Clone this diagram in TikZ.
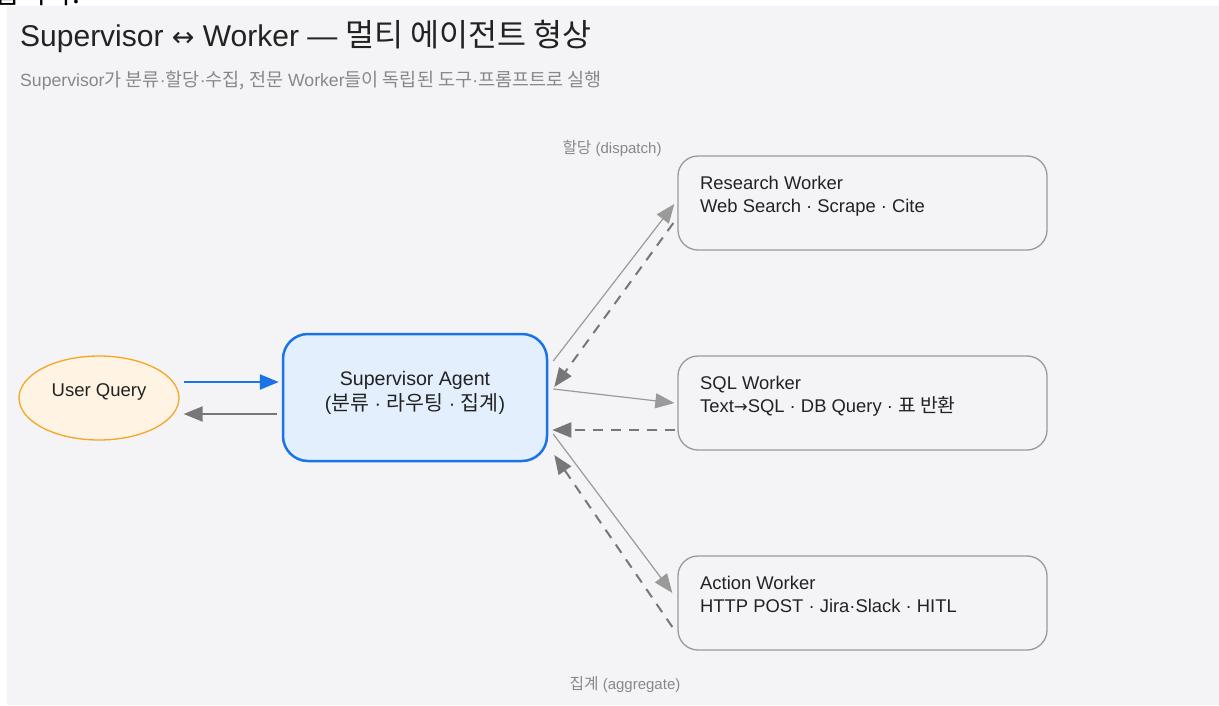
\documentclass[tikz,border=0pt]{standalone}
\usepackage{fontspec}
\setmainfont{Liberation Sans}
\newfontfamily\kr[Scale=1.05]{Noto Sans CJK KR}
\newfontfamily\sym[Scale=0.9]{DejaVu Sans}
\newcommand\K[1]{{\kr #1}}
\usetikzlibrary{arrows.meta,calc,shapes.geometric}

\definecolor{panel}{HTML}{F4F4F6}
\definecolor{ink}{HTML}{222222}
\definecolor{muted}{HTML}{888888}
\definecolor{qfill}{HTML}{FFF3E3}
\definecolor{qline}{HTML}{F5A623}
\definecolor{sfill}{HTML}{E3EFFC}
\definecolor{blueline}{HTML}{1A73E8}
\definecolor{wline}{HTML}{9A9A9A}
\definecolor{thin}{HTML}{9A9A9A}
\definecolor{dark}{HTML}{777777}

\tikzset{
  tip/.style={-{Triangle[length=19pt,width=15pt]}},
  worker/.style={draw=wline, line width=1.3pt, fill=panel, rounded corners=20pt,
    minimum width=369pt, minimum height=94pt, inner sep=0pt},
  wtext/.style={anchor=base west, inner sep=0pt, text=ink, font=\fontsize{18.4}{22}\selectfont},
  sendline/.style={tip, draw=thin, line width=1.2pt},
  backline/.style={tip, draw=dark, line width=2pt, dash pattern=on 10pt off 8pt},
  caption/.style={text=muted, inner sep=0pt, font=\fontsize{15}{17}\selectfont},
}

\begin{document}
\begin{tikzpicture}[x=1pt, y=-1pt]
\useasboundingbox (0,0) rectangle (1219,705);
\fill[panel] (7,6) rectangle (1219,705);

% tail of the preceding line of text, cut off by the page top
\begin{scope}
  \clip (0,0) rectangle (1219,6);
  \node[anchor=base west, inner sep=0pt, text=black, font=\fontsize{27}{30}\selectfont] (prev) at (-6,3) {\K{합니다.}};
\end{scope}

% headings
\node[anchor=base west, inner sep=0pt, text=ink, font=\fontsize{30}{34}\selectfont] (title) at (20,46)
  {Supervisor {\sym ↔} Worker — \K{멀티 에이전트 형상}};
\node[anchor=base west, inner sep=0pt, text=muted, font=\fontsize{17.65}{20}\selectfont] (sub) at (20,86)
  {Supervisor\K{가 분류}·\K{할당}·\K{수집, 전문} Worker\K{들이 독립된 도구}·\K{프롬프트로 실행}};

\node[caption] (lbl1) at (612,148) {\K{할당} (dispatch)};
\node[caption] (lbl2) at (625,685) {\K{집계} (aggregate)};

% user query
\node[ellipse, draw=qline, line width=1.3pt, fill=qfill, minimum width=160pt, minimum height=84pt] (q) at (99,398) {};
\node[text=ink, inner sep=0pt, font=\fontsize{18.5}{22}\selectfont, anchor=base] (qt) at (99,396) {User Query};

% supervisor
\node[draw=blueline, line width=2.5pt, fill=sfill, rounded corners=25pt,
  minimum width=264pt, minimum height=127pt, inner sep=0pt] (s) at (415,397.5) {};
\node[anchor=base, inner sep=0pt, text=ink, font=\fontsize{19.6}{25}\selectfont] (st) at (415,385)
  {Supervisor Agent};
\node[anchor=base, inner sep=0pt, text=ink, font=\fontsize{19.6}{25}\selectfont] (st2) at (415,410)
  {(\K{분류} · \K{라우팅} · \K{집계})};

% workers
\node[worker] (r)  at (862.5,203) {};
\node[worker] (sq) at (862.5,403) {};
\node[worker] (a)  at (862.5,603) {};

\node[wtext] (rt1) at (700,189) {Research Worker};
\node[wtext] (rt2) at (700,212) {Web Search · Scrape · Cite};
\node[wtext] (qt1) at (700,389) {SQL Worker};
\node[wtext] (qt2) at (700,412) {Text{\sym →}SQL · DB Query · \K{표 반환}};
\node[wtext] (at1) at (700,589) {Action Worker};
\node[wtext] (at2) at (700,612) {HTTP POST · Jira·Slack · HITL};

% query <-> supervisor
\draw[tip, draw=blueline, fill=blueline, line width=2.5pt]
  ([shift={(4pt,16pt)}]q.east) -- ([shift={(-3pt,15.5pt)}]s.west);
\draw[tip, draw=dark, line width=2pt]
  ([shift={(-5pt,-16.5pt)}]s.west) -- ([shift={(4pt,-16pt)}]q.east);

% dispatch to workers
\draw[sendline] ([shift={(5pt,36.5pt)}]s.east) -- ([shift={(-3pt,-1pt)}]r.west);
\draw[sendline] ([shift={(5pt,8.5pt)}]s.east) -- ([shift={(-3pt,0pt)}]sq.west);
\draw[sendline] ([shift={(5pt,-36.5pt)}]s.east) -- ([shift={(-5pt,10pt)}]a.west);

% results back to the supervisor
\draw[backline] ([shift={(-4pt,-20pt)}]r.west) -- ([shift={(6pt,10.5pt)}]s.east);
\draw[backline] ([shift={(-2pt,-27pt)}]sq.west) -- ([shift={(4pt,-32.5pt)}]s.east);
\draw[backline] ([shift={(-5pt,-24pt)}]a.west) -- ([shift={(6pt,-57.5pt)}]s.east);
\end{tikzpicture}
\end{document}
